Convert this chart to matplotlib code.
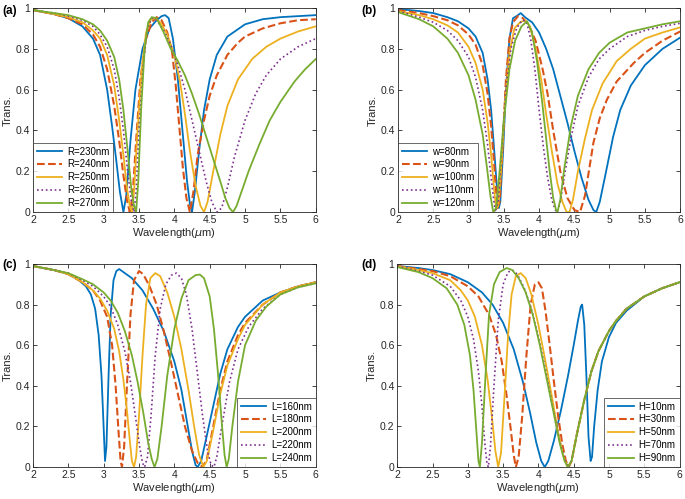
import matplotlib.pyplot as plt

plt.rcParams['font.family'] = ['Liberation Sans', 'DejaVu Sans']
plt.rcParams['mathtext.fontset'] = 'dejavusans'

colors = ['#0072BD', '#D95319', '#EDB120', '#7E2F8E', '#77AC30']
styles = ['-', '--', '-', ':', '-']
widths = [1.3, 1.5, 1.3, 1.2, 1.3]

# ---------------- panel (a): radius R ----------------
a_labels = ['R=230nm', 'R=240nm', 'R=250nm', 'R=260nm', 'R=270nm']
a1_x = [2.0, 2.3, 2.5, 2.7, 2.85, 2.95, 3.05, 3.12, 3.18, 3.23, 3.28, 3.32, 3.38, 3.45, 3.55, 3.65, 3.75, 3.82, 3.87, 3.92, 3.98, 4.05, 4.12, 4.18, 4.22, 4.25, 4.29, 4.35, 4.42, 4.5, 4.6, 4.75, 5.0, 5.25, 5.5, 5.75, 6.0]
a1_y = [0.99, 0.97, 0.95, 0.91, 0.85, 0.77, 0.6, 0.42, 0.25, 0.1, 0.0, 0.08, 0.35, 0.6, 0.8, 0.9, 0.94, 0.96, 0.965, 0.95, 0.85, 0.65, 0.38, 0.15, 0.04, 0.0, 0.1, 0.3, 0.5, 0.65, 0.77, 0.86, 0.92, 0.945, 0.955, 0.96, 0.965]
a2_x = [2.0, 2.3, 2.5, 2.7, 2.85, 2.95, 3.05, 3.15, 3.22, 3.28, 3.33, 3.37, 3.41, 3.46, 3.52, 3.6, 3.68, 3.75, 3.82, 3.9, 3.97, 4.02, 4.07, 4.12, 4.17, 4.22, 4.27, 4.33, 4.42, 4.5, 4.6, 4.75, 4.9, 5.0, 5.25, 5.5, 5.75, 6.0]
a2_y = [0.99, 0.97, 0.95, 0.92, 0.87, 0.81, 0.7, 0.52, 0.35, 0.18, 0.06, 0.0, 0.08, 0.35, 0.65, 0.85, 0.93, 0.955, 0.94, 0.88, 0.78, 0.62, 0.42, 0.22, 0.07, 0.0, 0.1, 0.28, 0.45, 0.57, 0.67, 0.77, 0.83, 0.86, 0.9, 0.925, 0.94, 0.945]
a3_x = [2.0, 2.3, 2.5, 2.7, 2.85, 2.95, 3.05, 3.15, 3.22, 3.28, 3.33, 3.37, 3.4, 3.43, 3.48, 3.54, 3.6, 3.67, 3.72, 3.8, 3.9, 4.0, 4.08, 4.15, 4.22, 4.3, 4.37, 4.42, 4.47, 4.55, 4.65, 4.75, 4.9, 5.1, 5.3, 5.5, 5.75, 6.0]
a3_y = [0.99, 0.97, 0.955, 0.93, 0.89, 0.85, 0.77, 0.62, 0.45, 0.28, 0.12, 0.03, 0.0, 0.1, 0.4, 0.7, 0.88, 0.945, 0.95, 0.93, 0.87, 0.77, 0.64, 0.48, 0.3, 0.13, 0.03, 0.0, 0.05, 0.2, 0.38, 0.52, 0.65, 0.75, 0.81, 0.85, 0.885, 0.91]
a4_x = [2.0, 2.3, 2.5, 2.7, 2.85, 2.95, 3.05, 3.15, 3.22, 3.28, 3.34, 3.39, 3.43, 3.46, 3.5, 3.56, 3.62, 3.68, 3.75, 3.85, 3.95, 4.05, 4.15, 4.25, 4.35, 4.45, 4.53, 4.6, 4.67, 4.75, 4.85, 5.0, 5.15, 5.3, 5.5, 5.75, 6.0]
a4_y = [0.99, 0.975, 0.96, 0.94, 0.91, 0.87, 0.81, 0.7, 0.56, 0.4, 0.2, 0.06, 0.0, 0.1, 0.4, 0.72, 0.9, 0.95, 0.94, 0.89, 0.82, 0.72, 0.6, 0.45, 0.3, 0.15, 0.05, 0.0, 0.02, 0.12, 0.27, 0.45, 0.58, 0.67, 0.75, 0.81, 0.85]
a5_x = [2.0, 2.3, 2.5, 2.7, 2.85, 2.95, 3.05, 3.15, 3.22, 3.28, 3.34, 3.39, 3.43, 3.46, 3.49, 3.53, 3.58, 3.63, 3.68, 3.75, 3.85, 3.95, 4.05, 4.15, 4.25, 4.35, 4.45, 4.55, 4.65, 4.72, 4.78, 4.83, 4.88, 4.95, 5.05, 5.2, 5.35, 5.5, 5.7, 5.85, 6.0]
a5_y = [0.99, 0.975, 0.965, 0.945, 0.92, 0.89, 0.84, 0.76, 0.65, 0.5, 0.3, 0.12, 0.03, 0.0, 0.15, 0.5, 0.8, 0.93, 0.955, 0.95, 0.88, 0.8, 0.74, 0.67, 0.58, 0.48, 0.37, 0.26, 0.15, 0.07, 0.02, 0.0, 0.03, 0.1, 0.2, 0.33, 0.45, 0.54, 0.64, 0.7, 0.75]

# ---------------- panel (b): width w ----------------
b_labels = ['w=80nm', 'w=90nm', 'w=100nm', 'w=110nm', 'w=120nm']
b1_x = [2.0, 2.3, 2.5, 2.7, 2.85, 3.0, 3.1, 3.2, 3.27, 3.32, 3.36, 3.4, 3.43, 3.45, 3.49, 3.53, 3.58, 3.63, 3.68, 3.74, 3.8, 3.9, 4.0, 4.1, 4.2, 4.3, 4.4, 4.5, 4.6, 4.7, 4.77, 4.81, 4.86, 4.95, 5.05, 5.15, 5.3, 5.5, 5.75, 6.0]
b1_y = [0.995, 0.985, 0.975, 0.955, 0.935, 0.9, 0.86, 0.78, 0.65, 0.5, 0.32, 0.13, 0.02, 0.05, 0.3, 0.6, 0.85, 0.95, 0.96, 0.975, 0.955, 0.93, 0.88, 0.8, 0.7, 0.57, 0.44, 0.3, 0.17, 0.06, 0.01, 0.0, 0.05, 0.2, 0.37, 0.5, 0.62, 0.72, 0.8, 0.855]
b2_x = [2.0, 2.3, 2.5, 2.7, 2.85, 3.0, 3.1, 3.2, 3.27, 3.32, 3.36, 3.39, 3.41, 3.44, 3.48, 3.53, 3.58, 3.63, 3.7, 3.77, 3.85, 3.95, 4.05, 4.12, 4.2, 4.3, 4.4, 4.5, 4.58, 4.65, 4.77, 4.86, 4.96, 5.1, 5.34, 5.5, 5.75, 6.0]
b2_y = [0.99, 0.975, 0.96, 0.94, 0.915, 0.87, 0.82, 0.72, 0.58, 0.42, 0.25, 0.1, 0.02, 0.05, 0.3, 0.65, 0.85, 0.93, 0.96, 0.95, 0.92, 0.84, 0.7, 0.58, 0.4, 0.2, 0.07, 0.01, 0.0, 0.08, 0.34, 0.46, 0.55, 0.64, 0.73, 0.78, 0.84, 0.885]
b3_x = [2.0, 2.3, 2.5, 2.7, 2.85, 3.0, 3.1, 3.2, 3.27, 3.32, 3.36, 3.39, 3.42, 3.46, 3.52, 3.58, 3.65, 3.73, 3.8, 3.87, 3.95, 4.03, 4.1, 4.18, 4.26, 4.33, 4.39, 4.43, 4.48, 4.55, 4.65, 4.75, 4.9, 5.1, 5.3, 5.5, 5.75, 6.0]
b3_y = [0.985, 0.965, 0.945, 0.915, 0.88, 0.81, 0.73, 0.6, 0.44, 0.28, 0.12, 0.02, 0.03, 0.2, 0.55, 0.78, 0.9, 0.93, 0.94, 0.91, 0.8, 0.65, 0.48, 0.3, 0.14, 0.05, 0.0, 0.0, 0.06, 0.2, 0.36, 0.5, 0.63, 0.74, 0.8, 0.85, 0.88, 0.905]
b4_x = [2.0, 2.3, 2.5, 2.7, 2.85, 3.0, 3.1, 3.2, 3.27, 3.32, 3.36, 3.38, 3.42, 3.47, 3.53, 3.6, 3.68, 3.76, 3.82, 3.88, 3.94, 4.0, 4.06, 4.12, 4.18, 4.23, 4.26, 4.3, 4.37, 4.45, 4.55, 4.7, 4.85, 5.0, 5.25, 5.5, 5.75, 6.0]
b4_y = [0.985, 0.955, 0.93, 0.89, 0.84, 0.76, 0.66, 0.5, 0.33, 0.17, 0.05, 0.0, 0.05, 0.3, 0.6, 0.8, 0.9, 0.94, 0.935, 0.85, 0.7, 0.5, 0.32, 0.17, 0.06, 0.01, 0.0, 0.05, 0.2, 0.36, 0.52, 0.66, 0.75, 0.8, 0.86, 0.89, 0.91, 0.925]
b5_x = [2.0, 2.3, 2.5, 2.7, 2.85, 3.0, 3.1, 3.2, 3.26, 3.31, 3.35, 3.39, 3.44, 3.5, 3.58, 3.66, 3.75, 3.83, 3.9, 3.97, 4.04, 4.1, 4.15, 4.2, 4.24, 4.26, 4.3, 4.36, 4.45, 4.55, 4.7, 4.85, 5.0, 5.25, 5.5, 5.75, 6.0]
b5_y = [0.98, 0.945, 0.91, 0.85, 0.78, 0.67, 0.55, 0.38, 0.22, 0.08, 0.0, 0.02, 0.2, 0.45, 0.7, 0.84, 0.91, 0.935, 0.88, 0.74, 0.55, 0.36, 0.2, 0.07, 0.01, 0.0, 0.06, 0.22, 0.42, 0.57, 0.7, 0.78, 0.83, 0.88, 0.9, 0.92, 0.935]

# ---------------- panel (c): length L ----------------
c_labels = ['L=160nm', 'L=180nm', 'L=200nm', 'L=220nm', 'L=240nm']
c1_x = [2.0, 2.3, 2.5, 2.65, 2.75, 2.82, 2.88, 2.93, 2.97, 3.0, 3.02, 3.04, 3.07, 3.1, 3.14, 3.18, 3.22, 3.28, 3.4, 3.55, 3.7, 3.85, 4.0, 4.1, 4.18, 4.25, 4.3, 4.33, 4.38, 4.45, 4.55, 4.65, 4.75, 4.9, 5.0, 5.25, 5.5, 5.75, 6.0]
c1_y = [0.99, 0.97, 0.95, 0.92, 0.89, 0.85, 0.78, 0.65, 0.45, 0.2, 0.03, 0.1, 0.45, 0.75, 0.92, 0.965, 0.975, 0.96, 0.93, 0.87, 0.78, 0.67, 0.52, 0.38, 0.22, 0.08, 0.01, 0.0, 0.03, 0.14, 0.3, 0.46, 0.58, 0.69, 0.74, 0.82, 0.86, 0.89, 0.91]
c2_x = [2.0, 2.3, 2.5, 2.7, 2.85, 2.95, 3.05, 3.12, 3.17, 3.21, 3.24, 3.26, 3.29, 3.33, 3.38, 3.43, 3.5, 3.56, 3.65, 3.75, 3.85, 3.95, 4.05, 4.15, 4.25, 4.33, 4.4, 4.46, 4.55, 4.65, 4.75, 4.9, 5.0, 5.25, 5.5, 5.75, 6.0]
c2_y = [0.99, 0.97, 0.95, 0.91, 0.87, 0.82, 0.74, 0.6, 0.4, 0.18, 0.03, 0.0, 0.1, 0.4, 0.75, 0.92, 0.965, 0.95, 0.89, 0.8, 0.67, 0.52, 0.36, 0.2, 0.08, 0.02, 0.0, 0.04, 0.2, 0.38, 0.52, 0.65, 0.71, 0.8, 0.86, 0.89, 0.91]
c3_x = [2.0, 2.3, 2.5, 2.7, 2.85, 2.95, 3.05, 3.15, 3.22, 3.28, 3.33, 3.37, 3.4, 3.43, 3.46, 3.5, 3.55, 3.6, 3.66, 3.73, 3.8, 3.9, 4.0, 4.1, 4.2, 4.28, 4.35, 4.41, 4.46, 4.55, 4.65, 4.75, 4.9, 5.0, 5.25, 5.5, 5.75, 6.0]
c3_y = [0.99, 0.97, 0.95, 0.91, 0.87, 0.83, 0.77, 0.68, 0.57, 0.43, 0.28, 0.13, 0.03, 0.0, 0.05, 0.25, 0.55, 0.8, 0.93, 0.955, 0.94, 0.86, 0.74, 0.58, 0.38, 0.2, 0.06, 0.0, 0.03, 0.18, 0.36, 0.5, 0.63, 0.7, 0.8, 0.86, 0.89, 0.91]
c4_x = [2.0, 2.3, 2.5, 2.7, 2.85, 3.0, 3.1, 3.2, 3.3, 3.38, 3.45, 3.51, 3.55, 3.58, 3.62, 3.67, 3.73, 3.8, 3.88, 3.96, 4.03, 4.1, 4.17, 4.25, 4.32, 4.4, 4.47, 4.52, 4.56, 4.6, 4.68, 4.78, 4.9, 5.05, 5.25, 5.5, 5.75, 6.0]
c4_y = [0.99, 0.97, 0.955, 0.92, 0.89, 0.84, 0.79, 0.7, 0.57, 0.42, 0.25, 0.1, 0.02, 0.0, 0.05, 0.25, 0.55, 0.78, 0.9, 0.945, 0.955, 0.93, 0.85, 0.68, 0.48, 0.25, 0.08, 0.01, 0.0, 0.05, 0.22, 0.42, 0.58, 0.69, 0.78, 0.85, 0.885, 0.905]
c5_x = [2.0, 2.3, 2.5, 2.7, 2.85, 3.0, 3.1, 3.2, 3.3, 3.4, 3.48, 3.56, 3.63, 3.68, 3.72, 3.76, 3.82, 3.9, 4.0, 4.1, 4.2, 4.3, 4.36, 4.42, 4.5, 4.56, 4.62, 4.67, 4.71, 4.74, 4.77, 4.82, 4.9, 5.0, 5.15, 5.3, 5.5, 5.75, 6.0]
c5_y = [0.99, 0.97, 0.955, 0.925, 0.9, 0.86, 0.82, 0.76, 0.67, 0.55, 0.42, 0.27, 0.12, 0.04, 0.0, 0.04, 0.2, 0.45, 0.68, 0.83, 0.92, 0.945, 0.948, 0.93, 0.84, 0.68, 0.45, 0.22, 0.06, 0.0, 0.04, 0.2, 0.42, 0.6, 0.72, 0.79, 0.85, 0.885, 0.905]

# ---------------- panel (d): height H ----------------
d_labels = ['H=10nm', 'H=30nm', 'H=50nm', 'H=70nm', 'H=90nm']
d1_x = [2.0, 2.3, 2.5, 2.75, 3.0, 3.2, 3.35, 3.5, 3.65, 3.78, 3.88, 3.97, 4.04, 4.09, 4.14, 4.22, 4.32, 4.42, 4.5, 4.56, 4.6, 4.62, 4.65, 4.68, 4.71, 4.74, 4.76, 4.79, 4.84, 4.9, 5.0, 5.1, 5.25, 5.5, 5.75, 6.0]
d1_y = [0.99, 0.98, 0.97, 0.95, 0.91, 0.86, 0.8, 0.71, 0.58, 0.42, 0.27, 0.12, 0.03, 0.0, 0.03, 0.13, 0.28, 0.45, 0.6, 0.72, 0.79, 0.8, 0.7, 0.45, 0.15, 0.03, 0.05, 0.2, 0.38, 0.52, 0.64, 0.71, 0.77, 0.84, 0.88, 0.91]
d2_x = [2.0, 2.3, 2.5, 2.75, 3.0, 3.15, 3.3, 3.4, 3.48, 3.55, 3.61, 3.65, 3.68, 3.72, 3.77, 3.83, 3.89, 3.95, 4.0, 4.05, 4.1, 4.16, 4.22, 4.28, 4.34, 4.39, 4.43, 4.47, 4.55, 4.65, 4.75, 4.85, 5.0, 5.1, 5.25, 5.5, 5.75, 6.0]
d2_y = [0.99, 0.975, 0.965, 0.94, 0.89, 0.84, 0.75, 0.65, 0.52, 0.35, 0.18, 0.06, 0.0, 0.05, 0.25, 0.55, 0.8, 0.9, 0.91, 0.88, 0.77, 0.6, 0.42, 0.25, 0.11, 0.03, 0.0, 0.03, 0.17, 0.33, 0.47, 0.57, 0.67, 0.72, 0.78, 0.84, 0.88, 0.91]
d3_x = [2.0, 2.3, 2.5, 2.75, 2.9, 3.0, 3.1, 3.2, 3.28, 3.34, 3.39, 3.43, 3.47, 3.52, 3.57, 3.62, 3.68, 3.75, 3.82, 3.9, 4.0, 4.1, 4.2, 4.28, 4.35, 4.41, 4.47, 4.55, 4.65, 4.75, 4.85, 5.0, 5.1, 5.25, 5.5, 5.75, 6.0]
d3_y = [0.99, 0.97, 0.955, 0.92, 0.87, 0.82, 0.74, 0.6, 0.43, 0.25, 0.08, 0.0, 0.07, 0.35, 0.65, 0.85, 0.94, 0.955, 0.93, 0.85, 0.7, 0.52, 0.33, 0.17, 0.06, 0.0, 0.03, 0.17, 0.33, 0.47, 0.57, 0.67, 0.72, 0.78, 0.84, 0.88, 0.91]
d4_x = [2.0, 2.3, 2.5, 2.75, 2.9, 3.0, 3.08, 3.15, 3.2, 3.24, 3.27, 3.29, 3.32, 3.37, 3.43, 3.5, 3.57, 3.63, 3.7, 3.8, 3.9, 4.0, 4.1, 4.2, 4.3, 4.37, 4.42, 4.47, 4.55, 4.65, 4.75, 4.85, 5.0, 5.1, 5.25, 5.5, 5.75, 6.0]
d4_y = [0.99, 0.965, 0.945, 0.89, 0.82, 0.74, 0.63, 0.47, 0.3, 0.12, 0.02, 0.0, 0.1, 0.4, 0.72, 0.9, 0.96, 0.97, 0.95, 0.88, 0.78, 0.64, 0.48, 0.3, 0.13, 0.04, 0.0, 0.03, 0.17, 0.33, 0.47, 0.57, 0.67, 0.72, 0.78, 0.84, 0.88, 0.91]
d5_x = [2.0, 2.3, 2.5, 2.7, 2.85, 2.95, 3.03, 3.08, 3.12, 3.15, 3.17, 3.2, 3.25, 3.3, 3.37, 3.45, 3.55, 3.63, 3.72, 3.82, 3.92, 4.02, 4.12, 4.22, 4.3, 4.37, 4.42, 4.47, 4.55, 4.65, 4.75, 4.85, 5.0, 5.1, 5.25, 5.5, 5.75, 6.0]
d5_y = [0.985, 0.96, 0.93, 0.88, 0.8, 0.7, 0.55, 0.38, 0.18, 0.03, 0.0, 0.12, 0.45, 0.75, 0.9, 0.96, 0.98, 0.97, 0.93, 0.86, 0.75, 0.6, 0.43, 0.26, 0.12, 0.03, 0.0, 0.03, 0.17, 0.33, 0.47, 0.57, 0.67, 0.72, 0.78, 0.84, 0.88, 0.91]

panels = [
    ('(a)', a_labels, [(a1_x, a1_y), (a2_x, a2_y), (a3_x, a3_y), (a4_x, a4_y), (a5_x, a5_y)], 'lower left'),
    ('(b)', b_labels, [(b1_x, b1_y), (b2_x, b2_y), (b3_x, b3_y), (b4_x, b4_y), (b5_x, b5_y)], 'lower left'),
    ('(c)', c_labels, [(c1_x, c1_y), (c2_x, c2_y), (c3_x, c3_y), (c4_x, c4_y), (c5_x, c5_y)], 'lower right'),
    ('(d)', d_labels, [(d1_x, d1_y), (d2_x, d2_y), (d3_x, d3_y), (d4_x, d4_y), (d5_x, d5_y)], 'lower right'),
]

xticks = [2, 2.5, 3, 3.5, 4, 4.5, 5, 5.5, 6]
yticks = [0, 0.2, 0.4, 0.6, 0.8, 1]

fig = plt.figure(figsize=(6.85, 4.99), dpi=100)
boxes = [[0.048, 0.575, 0.413, 0.409], [0.581, 0.575, 0.412, 0.409],
         [0.048, 0.064, 0.413, 0.407], [0.580, 0.064, 0.412, 0.407]]
tag_pos = [(0.003, 0.972), (0.527, 0.972), (0.003, 0.462), (0.527, 0.462)]

for k, (tag, labels, curves, loc) in enumerate(panels):
    ax = fig.add_axes(boxes[k])
    for i, (x, y) in enumerate(curves):
        ax.plot(x, y, color=colors[i], linestyle=styles[i], lw=widths[i], label=labels[i])
    ax.set_xlim(2, 6)
    ax.set_ylim(0, 1)
    ax.set_xticks(xticks)
    ax.set_xticklabels(['2', '2.5', '3', '3.5', '4', '4.5', '5', '5.5', '6'])
    ax.set_yticks(yticks)
    ax.set_yticklabels(['0', '0.2', '0.4', '0.6', '0.8', '1'])
    ax.tick_params(direction='in', top=True, right=True, length=3, width=0.6,
                   labelsize=7.5, colors='#262626', pad=2)
    for s in ax.spines.values():
        s.set_color('#262626')
        s.set_linewidth(0.6)
    ax.set_xlabel('Wavelength($\\mu$m)', fontsize=8, color='#262626', labelpad=1)
    ax.set_ylabel('Trans.', fontsize=8, color='#262626', labelpad=2)
    leg = ax.legend(loc=loc, fontsize=7, borderaxespad=0, handlelength=2.6,
                    handletextpad=0.5, labelspacing=0.3, borderpad=0.4, fancybox=False)
    leg.get_frame().set_edgecolor('#262626')
    leg.get_frame().set_linewidth(0.6)
    fig.text(tag_pos[k][0], tag_pos[k][1], tag, fontsize=8.5, fontweight='bold')

fig.savefig('out.png', dpi=100)
